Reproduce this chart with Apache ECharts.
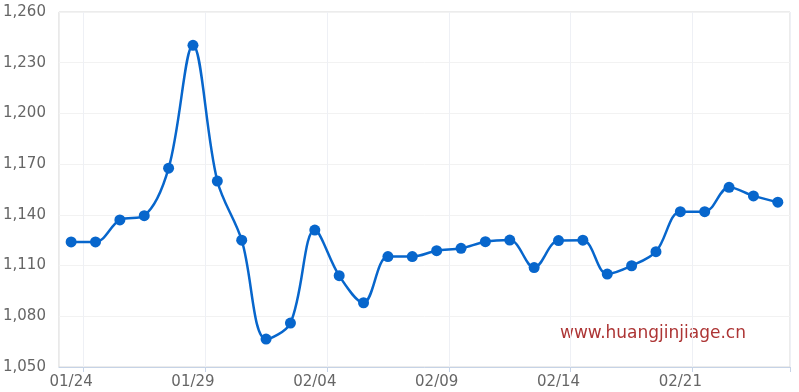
<!DOCTYPE html>
<html>
<head>
<meta charset="utf-8">
<script src="https://cdn.jsdelivr.net/npm/echarts@6/dist/echarts.min.js"></script>
<style>html,body{margin:0;padding:0;background:#fff;}#c{width:799px;height:392px;}</style>
</head>
<body>
<div id="c"></div>
<script>
var categories = ['01/24','01/25','01/26','01/27','01/28','01/29','01/30','01/31','02/01','02/02',
  '02/04','02/05','02/06','02/07','02/08','02/09','02/10','02/11','02/12','02/13',
  '02/14','02/16','02/17','02/18','02/19','02/21','02/22','02/23','02/24','02/25'];
var prices = [1124, 1124, 1137, 1139.5, 1167.6, 1240.3, 1160, 1125, 1066.5, 1076,
  1131, 1104, 1088, 1115.3, 1115.3, 1118.8, 1120.2, 1124.1, 1125.1, 1108.8,
  1124.8, 1125, 1105, 1109.9, 1118.2, 1141.9, 1141.9, 1156.3, 1151.2, 1147.5];
var yTicks = {min: 1050, max: 1260, interval: 30};
var watermark = 'www.huangjinjiage.cn';

var tickEvery = function (i) { return i % 5 === 1; };

var chart = echarts.init(document.getElementById('c'), null, {renderer: 'canvas'});
chart.setOption({
  animation: false,
  grid: {left: 58, right: 9, top: 12, bottom: 25, show: true, borderColor: '#d8d8d8', borderWidth: 1, containLabel: false},
  xAxis: {
    type: 'category',
    data: categories,
    boundaryGap: true,
    axisLine: {lineStyle: {color: '#c6d3e6', width: 1}},
    axisTick: {show: true, length: 5, interval: tickEvery, lineStyle: {color: '#c6d3e6'}},
    axisLabel: {interval: 4, color: '#666', fontSize: 15, fontFamily: 'DejaVu Sans', margin: 8},
    splitLine: {show: true, interval: tickEvery, lineStyle: {color: '#eef0f5'}}
  },
  yAxis: {
    type: 'value',
    min: yTicks.min, max: yTicks.max, interval: yTicks.interval,
    axisLine: {show: false},
    axisTick: {show: false},
    axisLabel: {color: '#666', fontSize: 15, fontFamily: 'DejaVu Sans', margin: 13,
      formatter: function (v) { return v.toLocaleString('en-US'); }},
    splitLine: {lineStyle: {color: '#f2f2f2'}}
  },
  graphic: [{
    type: 'text', left: 560, top: 325,
    style: {text: watermark, fill: '#ad3535', fontSize: 17, fontFamily: 'DejaVu Sans'}
  }],
  series: [{
    type: 'line',
    data: prices,
    smooth: 0.35,
    symbol: 'circle',
    symbolSize: 11,
    itemStyle: {color: '#0766cc'},
    lineStyle: {color: '#0766cc', width: 2.5}
  }]
});
</script>
</body>
</html>
